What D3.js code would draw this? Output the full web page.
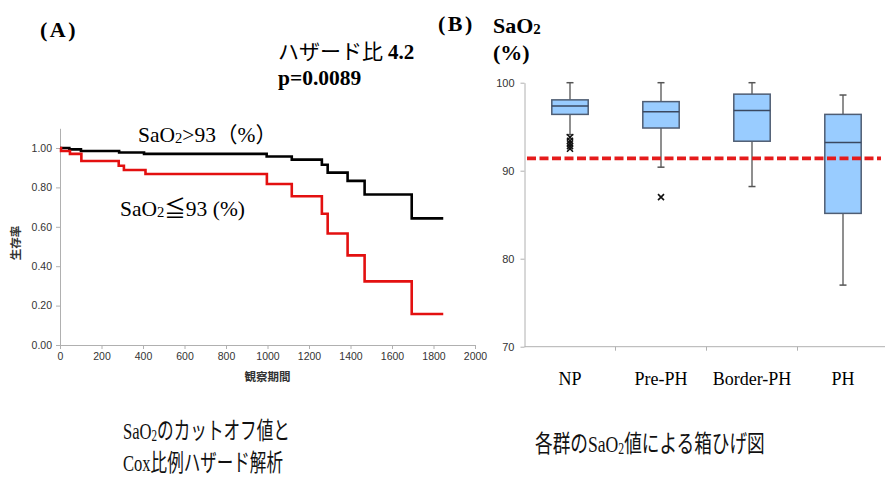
<!DOCTYPE html>
<html>
<head>
<meta charset="utf-8">
<script src="https://cdn.jsdelivr.net/npm/d3@7"></script>
<style>
  html, body { margin: 0; padding: 0; background: #fff; }
  svg { display: block; }
  .tick text { font-family: "Liberation Sans", Arial, sans-serif; fill: #333; }
</style>
</head>
<body>
<svg id="chart" width="885" height="477"></svg>
<script>
// Kaplan-Meier survival curves (panel A)
const kmTimesHigh = [0, 45, 101, 285, 405, 996, 1117, 1262, 1290, 1386, 1468, 1695, 1847];
const kmSurvHigh  = [1.0, 0.993, 0.985, 0.977, 0.970, 0.957, 0.941, 0.915, 0.875, 0.833, 0.764, 0.643, 0.643];
const kmTimesLow  = [0, 5, 48, 103, 283, 308, 412, 997, 1117, 1262, 1290, 1386, 1468, 1695, 1847];
const kmSurvLow   = [1.0, 0.985, 0.970, 0.934, 0.910, 0.888, 0.868, 0.817, 0.755, 0.666, 0.566, 0.455, 0.323, 0.157, 0.157];
const kmXTicks = [0, 200, 400, 600, 800, 1000, 1200, 1400, 1600, 1800, 2000];
const kmYTicks = [0, 0.2, 0.4, 0.6, 0.8, 1.0];

// SaO2 box plots by group (panel B)
const groups      = ["NP", "Pre-PH", "Border-PH", "PH"];
const whiskerLow  = [94.1, 90.4, 88.2, 77.0];
const q1          = [96.4, 94.85, 93.35, 85.15];
const median      = [97.35, 96.7, 96.85, 93.2];
const q3          = [98.05, 97.85, 98.7, 96.4];
const whiskerHigh = [100, 100, 100, 98.6];
const outliers    = [[93.8, 93.4, 93.1, 92.8, 92.5], [87.0], [], []];
const boxYTicks   = [70, 80, 90, 100];
const cutoffLevel = 91.4;

const svg = d3.select("#chart");
svg.append("rect").attr("width", 885).attr("height", 477).attr("fill", "#fff");

const serif = "'Liberation Serif', 'Times New Roman', serif";
const cjk = "'Noto Sans CJK JP', 'Noto Sans', sans-serif";
const mixed = "'Liberation Serif', 'Noto Sans CJK JP', serif";

// ---------- Panel A ----------
const xK = d3.scaleLinear().domain([0, 2000]).range([60, 475]);
const yK = d3.scaleLinear().domain([0, 1.1]).range([345, 128.3]);

const axK = svg.append("g");
axK.append("g").attr("transform", `translate(${xK(0)},0)`)
  .call(d3.axisLeft(yK).tickValues(kmYTicks).tickFormat(d3.format(".2f")).tickSize(4).tickSizeOuter(0).tickPadding(4));
axK.append("g").attr("transform", `translate(0,${yK(0)})`)
  .call(d3.axisBottom(xK).tickValues(kmXTicks).tickFormat(d3.format("d")).tickSize(4).tickSizeOuter(0).tickPadding(4));
axK.selectAll(".domain, .tick line").attr("stroke", "#b0b0b0");
axK.selectAll(".tick text").attr("font-size", 10.5);

const kmLine = d3.line().x(d => xK(d[0])).y(d => yK(d[1])).curve(d3.curveStepAfter);
const kmSeries = [
  { t: kmTimesHigh, s: kmSurvHigh, color: "#000000" },
  { t: kmTimesLow,  s: kmSurvLow,  color: "#e31010" }
];
kmSeries.forEach(ser => {
  svg.append("path")
    .datum(ser.t.map((t, i) => [t, ser.s[i]]))
    .attr("d", kmLine)
    .attr("fill", "none")
    .attr("stroke", ser.color)
    .attr("stroke-width", 2.6);
});

// axis titles
svg.append("text").attr("x", xK(1000)).attr("y", 381)
  .attr("text-anchor", "middle").attr("font-family", cjk).attr("font-weight", "bold")
  .attr("font-size", 11.5).attr("fill", "#333").text("観察期間");
svg.append("text").attr("transform", "translate(20,243) rotate(-90)")
  .attr("text-anchor", "middle").attr("font-family", cjk).attr("font-weight", "bold")
  .attr("font-size", 11.5).attr("fill", "#333").text("生存率");

// "SaO2..." label with a subscript 2
function sao2(sel, x, y, size, rest, weight) {
  const t = sel.append("text").attr("x", x).attr("y", y)
    .attr("font-family", mixed).attr("font-size", size).attr("font-weight", weight || "normal").attr("fill", "#000");
  t.append("tspan").text("SaO");
  t.append("tspan").attr("font-size", size * 0.68).attr("dy", 1).text("2");
  if (rest) t.append("tspan").attr("dy", -1).text(rest);
  return t;
}
sao2(svg, 138, 142, 21.5, ">93（%）");
sao2(svg, 120, 216, 21.5, "≦93 (%)");

// panel A header
svg.append("text").attr("x", 40).attr("y", 37).attr("font-family", serif).attr("font-weight", "bold")
  .attr("font-size", 22).attr("letter-spacing", 2.5).text("(A)");
const hz = svg.append("text").attr("x", 278).attr("y", 59).attr("font-size", 21).attr("fill", "#000");
hz.append("tspan").attr("font-family", cjk).text("ハザード比");
hz.append("tspan").attr("font-family", serif).attr("font-weight", "bold").attr("dx", 5).text("4.2");
svg.append("text").attr("x", 278).attr("y", 85).attr("font-family", serif).attr("font-weight", "bold")
  .attr("font-size", 21.5).text("p=0.0089");

// ---------- Panel B ----------
const xB = d3.scaleBand().domain(groups).range([524.5, 888.5]);
const yB = d3.scaleLinear().domain([70, 100]).range([346.7, 82.7]);
const boxW = xB.bandwidth() * 0.4;

const axB = svg.append("g");
axB.append("g").attr("transform", `translate(${xB.range()[0]},0)`)
  .call(d3.axisLeft(yB).tickValues(boxYTicks).tickSize(4).tickSizeOuter(0).tickPadding(6));
axB.selectAll(".domain, .tick line").attr("stroke", "#b0b0b0");
axB.selectAll(".tick text").attr("font-size", 11);
// category axis: baseline plus separators between groups
axB.append("line").attr("x1", xB.range()[0]).attr("x2", 885)
  .attr("y1", yB(70)).attr("y2", yB(70)).attr("stroke", "#b0b0b0");
axB.selectAll(".sep").data(groups.slice(1)).join("line")
  .attr("x1", d => xB(d)).attr("x2", d => xB(d))
  .attr("y1", yB(70)).attr("y2", yB(70) + 4).attr("stroke", "#b0b0b0");
axB.selectAll(".cat").data(groups).join("text")
  .attr("x", d => xB(d) + xB.bandwidth() / 2).attr("y", 385)
  .attr("text-anchor", "middle").attr("font-family", serif).attr("font-size", 18).attr("fill", "#000")
  .text(d => d);

const boxes = svg.append("g").selectAll("g").data(groups).join("g")
  .attr("transform", d => `translate(${xB(d) + xB.bandwidth() / 2},0)`);
boxes.append("line").attr("x1", 0).attr("x2", 0)
  .attr("y1", (d, i) => yB(whiskerHigh[i])).attr("y2", (d, i) => yB(q3[i]))
  .attr("stroke", "#8f8f8f").attr("stroke-width", 2);
boxes.append("line").attr("x1", 0).attr("x2", 0)
  .attr("y1", (d, i) => yB(q1[i])).attr("y2", (d, i) => yB(whiskerLow[i]))
  .attr("stroke", "#8f8f8f").attr("stroke-width", 2);
[whiskerHigh, whiskerLow].forEach(arr => {
  boxes.append("line").attr("x1", -3.5).attr("x2", 3.5)
    .attr("y1", (d, i) => yB(arr[i])).attr("y2", (d, i) => yB(arr[i]))
    .attr("stroke", "#555").attr("stroke-width", 1.5);
});
boxes.append("rect").attr("x", -boxW / 2).attr("width", boxW)
  .attr("y", (d, i) => yB(q3[i])).attr("height", (d, i) => yB(q1[i]) - yB(q3[i]))
  .attr("fill", "#99ccff").attr("stroke", "#4f5d73").attr("stroke-width", 1.5);
boxes.append("line").attr("x1", -boxW / 2).attr("x2", boxW / 2)
  .attr("y1", (d, i) => yB(median[i])).attr("y2", (d, i) => yB(median[i]))
  .attr("stroke", "#3a4860").attr("stroke-width", 1.5);
boxes.each(function(d, i) {
  d3.select(this).selectAll(".out").data(outliers[i]).join("path")
    .attr("d", v => { const y = yB(v), s = 3; return `M${-s},${y - s}L${s},${y + s}M${-s},${y + s}L${s},${y - s}`; })
    .attr("stroke", "#111").attr("stroke-width", 1.6).attr("fill", "none");
});

// cutoff reference line
svg.append("line").attr("x1", 527).attr("x2", 881)
  .attr("y1", yB(cutoffLevel)).attr("y2", yB(cutoffLevel))
  .attr("stroke", "#e51b1b").attr("stroke-width", 3.6).attr("stroke-dasharray", "9,3.5");

// panel B header
svg.append("text").attr("x", 438).attr("y", 31).attr("font-family", serif).attr("font-weight", "bold")
  .attr("font-size", 22).attr("letter-spacing", 2.5).text("(B)");
sao2(svg, 493, 33, 22, null, "bold");
svg.append("text").attr("x", 493).attr("y", 60).attr("font-family", serif).attr("font-weight", "bold")
  .attr("font-size", 22).text("(%)");

// ---------- captions ----------
// One text run per line, condensed horizontally to the given width.
function caption(x, y, width, parts) {
  const g = svg.append("g");
  const t = g.append("text").attr("x", 0).attr("y", 0).attr("font-family", mixed)
    .attr("font-size", 24).attr("fill", "#111");
  parts.forEach(p => {
    const s = t.append("tspan").text(p.text);
    if (p.sub) s.attr("font-size", 16).attr("dy", 2);
    if (p.up) s.attr("dy", -2);
  });
  const natural = t.node().getComputedTextLength();
  g.attr("transform", `translate(${x},${y}) scale(${width / natural},1)`);
}
caption(123, 439, 167, [{ text: "SaO" }, { text: "2", sub: true }, { text: "のカットオフ値と", up: true }]);
caption(123, 471, 160, [{ text: "Cox比例ハザード解析" }]);
caption(535, 452, 230, [{ text: "各群のSaO" }, { text: "2", sub: true }, { text: "値による箱ひげ図", up: true }]);
</script>
</body>
</html>
